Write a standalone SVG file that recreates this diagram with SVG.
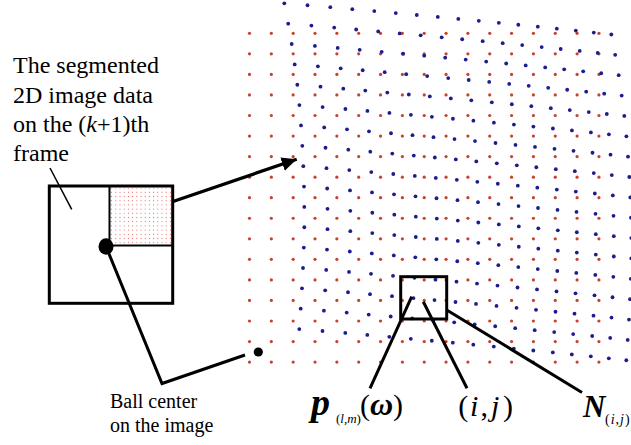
<svg xmlns="http://www.w3.org/2000/svg" width="631" height="445" viewBox="0 0 631 445">
<style>
.r{fill:#c8412e}
.b{fill:#1c1c8c}
.ln{stroke:#000;fill:none;stroke-width:3}
.thin{stroke:#000;fill:none;stroke-width:1.5}
.t{font-family:"Liberation Serif","Times New Roman",serif;fill:#000}
.bi{font-weight:bold;font-style:italic}
.it{font-style:italic}
</style>
<defs>
<g id="redRow">
<circle class="r" cx="0" cy="0" r="1.6"/><circle class="r" cx="21.84" cy="0" r="1.6"/><circle class="r" cx="43.68" cy="0" r="1.6"/><circle class="r" cx="65.52" cy="0" r="1.6"/><circle class="r" cx="87.36" cy="0" r="1.6"/><circle class="r" cx="109.2" cy="0" r="1.6"/><circle class="r" cx="131.04" cy="0" r="1.6"/><circle class="r" cx="152.88" cy="0" r="1.6"/><circle class="r" cx="174.72" cy="0" r="1.6"/><circle class="r" cx="196.56" cy="0" r="1.6"/><circle class="r" cx="218.4" cy="0" r="1.6"/><circle class="r" cx="240.24" cy="0" r="1.6"/><circle class="r" cx="262.08" cy="0" r="1.6"/><circle class="r" cx="283.92" cy="0" r="1.6"/><circle class="r" cx="305.76" cy="0" r="1.6"/><circle class="r" cx="327.6" cy="0" r="1.6"/><circle class="r" cx="349.44" cy="0" r="1.6"/>
</g>
<g id="blueRow">
<circle class="b" cx="0" cy="0" r="1.9"/><circle class="b" cx="23.2" cy="1.95" r="1.9"/><circle class="b" cx="46" cy="3.9" r="1.9"/><circle class="b" cx="68" cy="5.85" r="1.9"/><circle class="b" cx="90" cy="7.8" r="1.9"/><circle class="b" cx="111.5" cy="9.75" r="1.9"/><circle class="b" cx="132.5" cy="11.7" r="1.9"/><circle class="b" cx="153.5" cy="13.65" r="1.9"/><circle class="b" cx="174" cy="15.6" r="1.9"/><circle class="b" cx="194.5" cy="17.55" r="1.9"/><circle class="b" cx="214.5" cy="19.5" r="1.9"/><circle class="b" cx="234" cy="21.45" r="1.9"/><circle class="b" cx="253.5" cy="23.4" r="1.9"/><circle class="b" cx="272.5" cy="25.35" r="1.9"/><circle class="b" cx="291.5" cy="27.3" r="1.9"/><circle class="b" cx="309.5" cy="29.25" r="1.9"/><circle class="b" cx="327" cy="31.2" r="1.9"/>
</g>
<pattern id="pinkdots" patternUnits="userSpaceOnUse" x="109.5" y="186" width="4.2" height="4.2">
<circle cx="2.1" cy="2.1" r="0.55" fill="#e26060"/>
</pattern>
<marker id="arrow" markerUnits="userSpaceOnUse" markerWidth="16" markerHeight="14" refX="15" refY="7" orient="auto">
<path d="M0,0 L15,7 L0,14 Z" fill="#000"/>
</marker>
</defs>

<g id="reference-grid">
<use href="#redRow" x="249.5" y="33.3"/>
<use href="#redRow" x="249.5" y="53.85"/>
<use href="#redRow" x="249.5" y="74.4"/>
<use href="#redRow" x="249.5" y="94.95"/>
<use href="#redRow" x="249.5" y="115.5"/>
<use href="#redRow" x="249.5" y="136.05"/>
<use href="#redRow" x="249.5" y="156.6"/>
<use href="#redRow" x="249.5" y="177.15"/>
<use href="#redRow" x="249.5" y="197.7"/>
<use href="#redRow" x="249.5" y="218.25"/>
<use href="#redRow" x="249.5" y="238.8"/>
<use href="#redRow" x="249.5" y="259.35"/>
<use href="#redRow" x="249.5" y="279.9"/>
<use href="#redRow" x="249.5" y="300.45"/>
<use href="#redRow" x="249.5" y="321"/>
<use href="#redRow" x="249.5" y="341.55"/>
<use href="#redRow" x="249.5" y="362.1"/>
</g>

<g id="deformed-grid">
<use href="#blueRow" x="284.3" y="3.3"/>
<use href="#blueRow" x="288.2" y="23.66"/>
<use href="#blueRow" x="291.7" y="44.02"/>
<use href="#blueRow" x="294.7" y="64.38"/>
<use href="#blueRow" x="297.3" y="84.74"/>
<use href="#blueRow" x="299.4" y="105.1"/>
<use href="#blueRow" x="301" y="125.46"/>
<use href="#blueRow" x="302.3" y="145.82"/>
<use href="#blueRow" x="303.3" y="166.18"/>
<use href="#blueRow" x="304" y="186.54"/>
<use href="#blueRow" x="304.3" y="206.9"/>
<use href="#blueRow" x="304.3" y="227.26"/>
<use href="#blueRow" x="303.8" y="247.62"/>
<use href="#blueRow" x="303" y="267.98"/>
<use href="#blueRow" x="302" y="288.34"/>
<use href="#blueRow" x="300.7" y="308.7"/>
<use href="#blueRow" x="299.3" y="329.06"/>
</g>

<g id="image-frame">
<rect x="49.3" y="186" width="123.4" height="117.3" fill="#fff" stroke="#000" stroke-width="3"/>
<rect x="109.5" y="186" width="63.2" height="59.5" fill="url(#pinkdots)"/>
<path d="M109.5,186 V245.5 H172.7" fill="none" stroke="#000" stroke-width="2"/>
<ellipse cx="106" cy="246.5" rx="7.5" ry="8.3" fill="#000"/>
</g>

<g id="ball-center">
<circle cx="258.3" cy="352" r="4.6" fill="#000"/>
</g>

<g id="neighborhood">
<rect x="400.7" y="276.7" width="46" height="42.3" fill="none" stroke="#000" stroke-width="3"/>
</g>

<g id="connectors">
<line class="thin" x1="50" y1="168" x2="71.7" y2="209.3"/>
<line x1="173" y1="201.5" x2="296.7" y2="159.3" stroke="#000" stroke-width="3.3" marker-end="url(#arrow)"/>
<polyline class="ln" points="106,246.5 162,383.5 245,355"/>
<line class="ln" x1="411.7" y1="296.7" x2="370" y2="388.3"/>
<line class="ln" x1="423.3" y1="301.7" x2="467" y2="388.3"/>
<line class="ln" x1="446.7" y1="310" x2="582" y2="392.5"/>
</g>

<g id="label-frame" class="t" font-size="24">
<text x="13" y="73.3">The segmented</text>
<text x="13" y="102.5">2D image data</text>
<text x="13" y="131.7">on the (<tspan class="it">k</tspan>+1)th</text>
<text x="13" y="161">frame</text>
</g>

<g id="label-ball" class="t" font-size="20">
<text x="110" y="408.3">Ball center</text>
<text x="110" y="431.7">on the image</text>
</g>

<g id="label-p" class="t">
<text y="415"><tspan x="311" class="bi" font-size="38">p</tspan><tspan x="336" y="423" font-size="13">(<tspan class="it">l</tspan>,<tspan class="it">m</tspan>)</tspan><tspan x="360" y="415" font-size="30">(</tspan><tspan x="370" class="bi" font-size="32">ω</tspan><tspan x="393" font-size="30">)</tspan></text>
</g>

<g id="label-ij" class="t" font-size="30">
<text y="416"><tspan x="458.3">(</tspan><tspan x="470" class="it">i</tspan><tspan x="480.5">,</tspan><tspan x="491" class="it">j</tspan><tspan x="503">)</tspan></text>
</g>

<g id="label-N" class="t">
<text y="416.5"><tspan x="583" class="bi" font-size="31">N</tspan><tspan x="605" y="424" font-size="14" letter-spacing="1">(<tspan class="it">i</tspan>,<tspan class="it">j</tspan>)</tspan></text>
</g>
</svg>
